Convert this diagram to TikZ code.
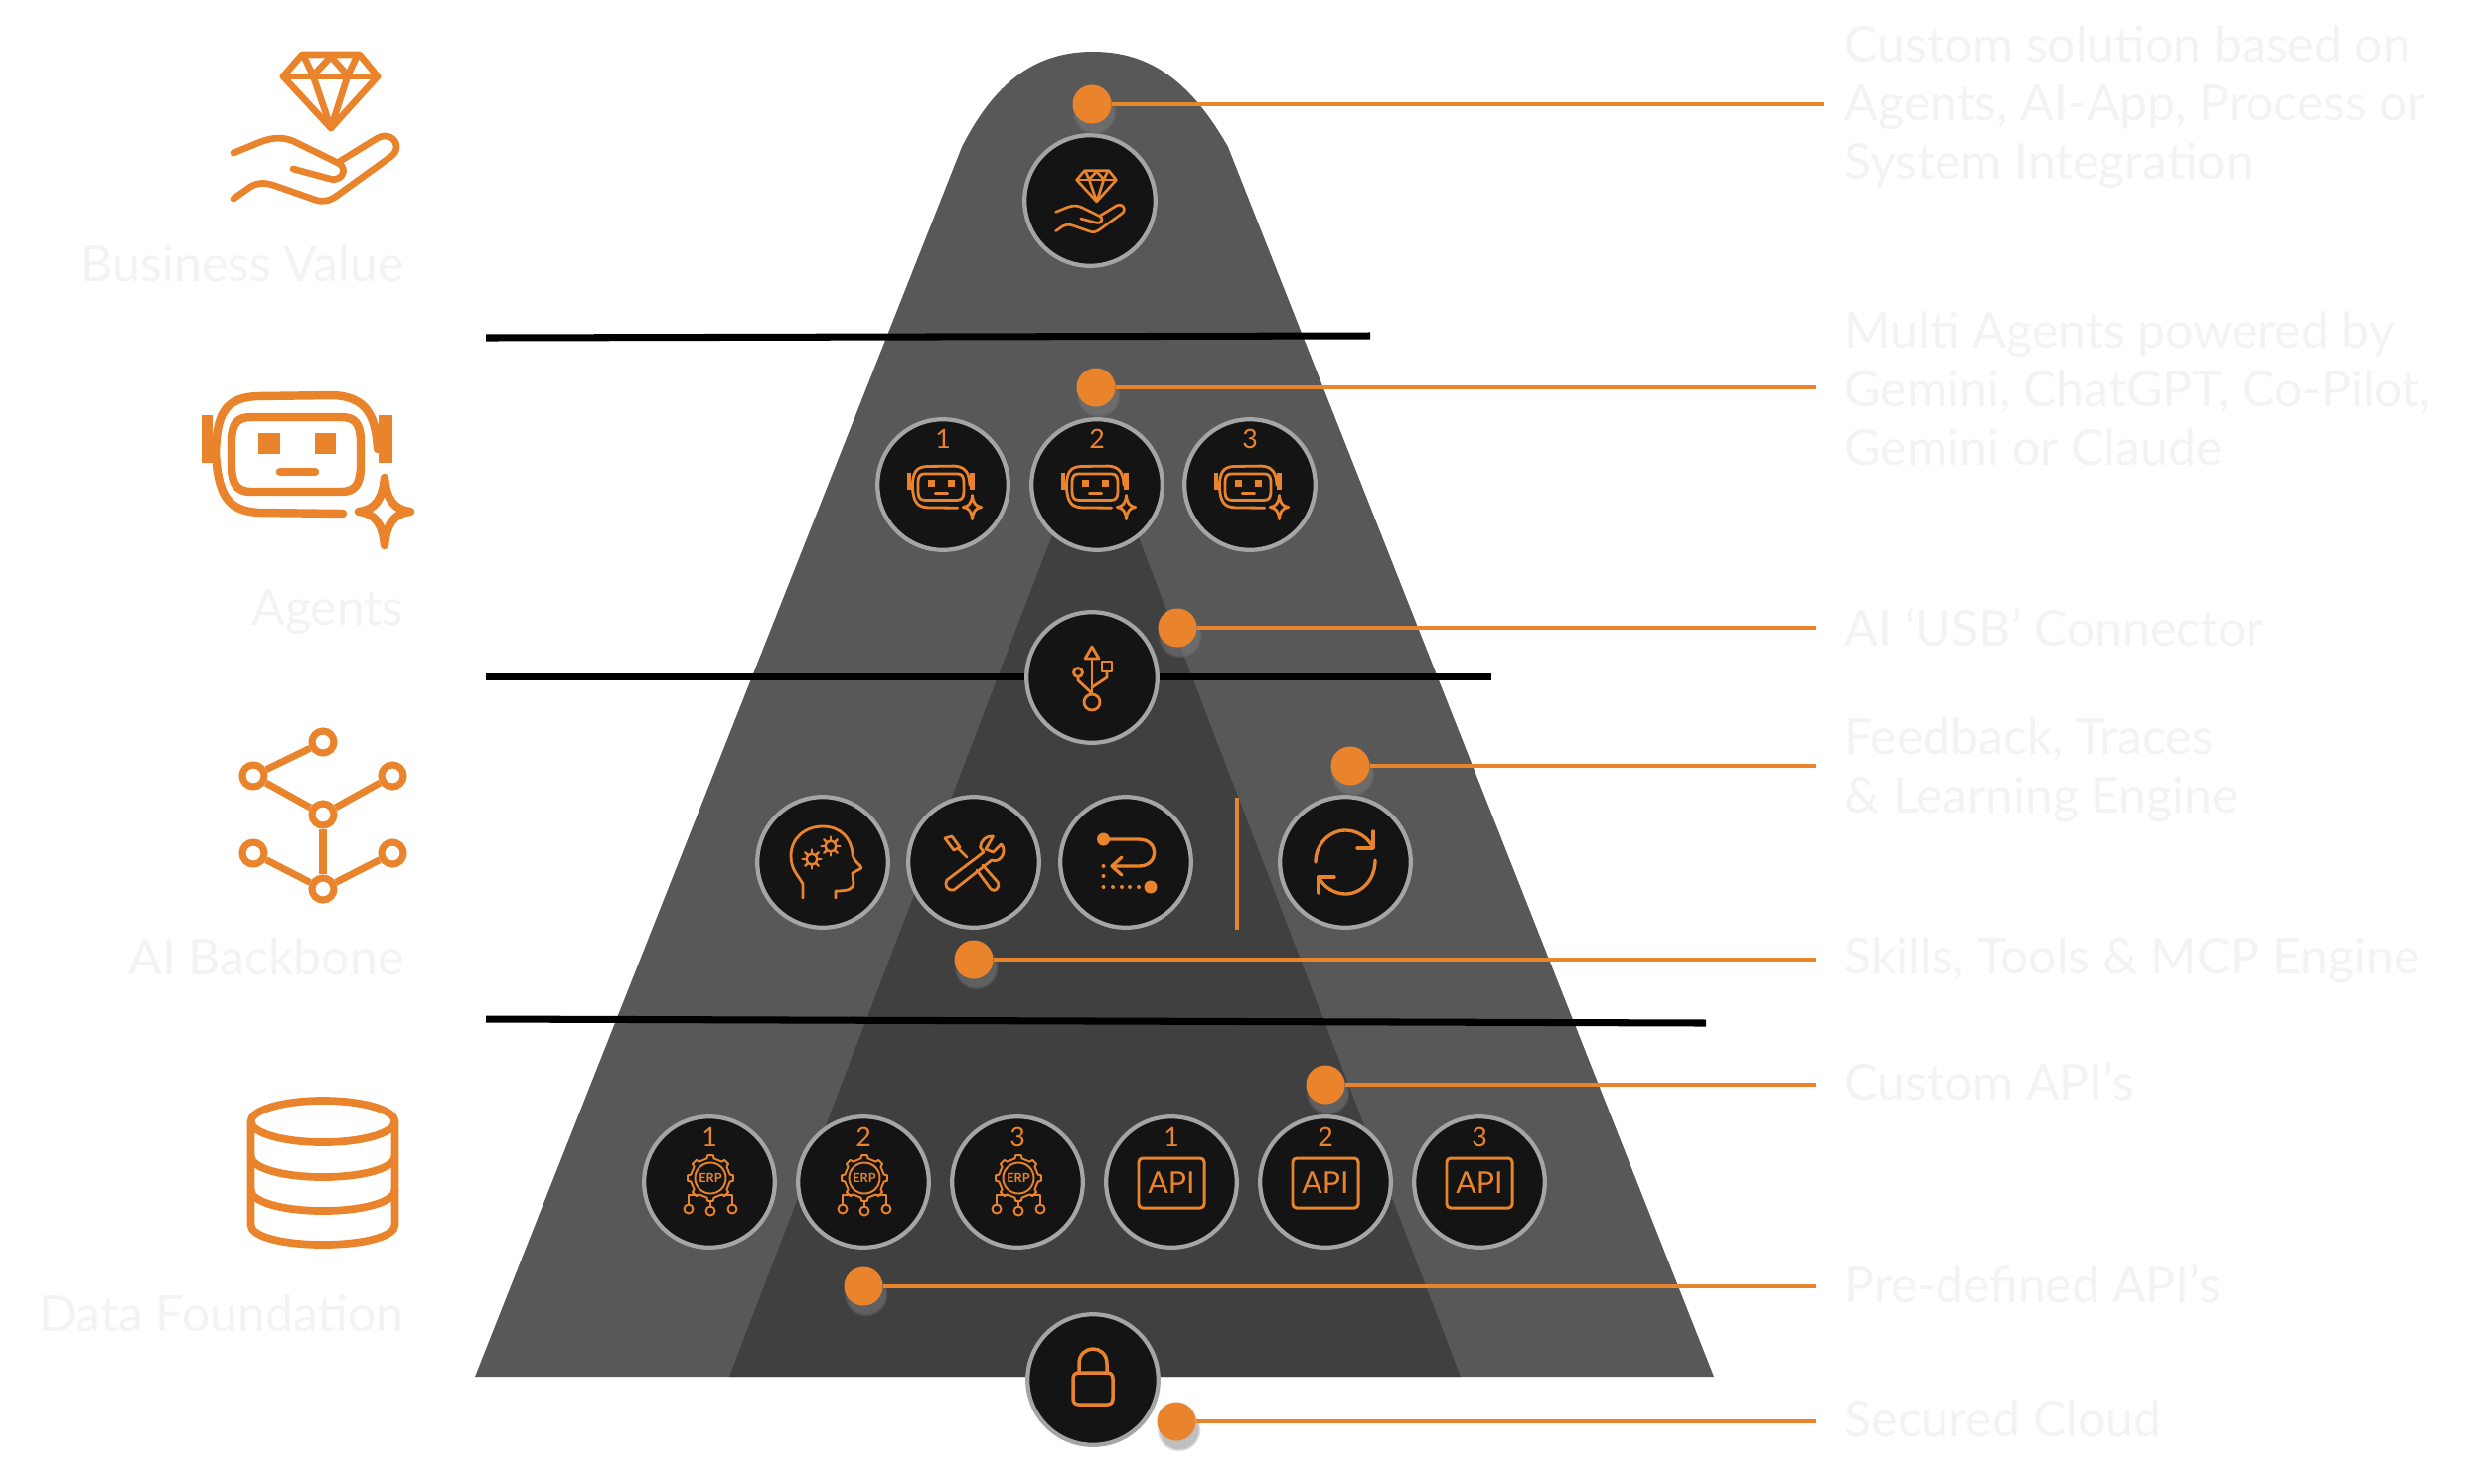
\documentclass[tikz,border=0pt]{standalone}
\usepackage{fontspec}
\setmainfont{Lato}
\usetikzlibrary{shadows}

\definecolor{brand}{HTML}{EA842C}
\definecolor{slab}{HTML}{585858}
\definecolor{slabdark}{HTML}{404040}
\definecolor{disc}{HTML}{141414}
\definecolor{ring}{HTML}{A5A5A5}
\definecolor{ghost}{HTML}{F3F3F3}

\tikzset{
  ic/.style={draw=brand, line cap=round, line join=round},
  tier/.style={circle, draw=ring, fill=disc, line width=1.2pt, minimum size=1.315cm, inner sep=0pt},
  dotmark/.style={circle, fill=brand, minimum size=0.39cm, inner sep=0pt,
    circular drop shadow={shadow xshift=0.02cm, shadow yshift=-0.07cm, shadow scale=1.15, opacity=.5}},
  lead/.style={draw=brand, line width=1.25pt},
  rule/.style={draw=black, line width=2pt},
  ghostlab/.style={text=ghost, inner sep=0pt, font=\fontsize{14.2pt}{16.72pt}\selectfont},
  numlab/.style={text=brand, inner sep=0pt, font=\fontsize{7.6pt}{8pt}\selectfont},
  netdot/.style={circle, draw=brand, fill=white, line width=2pt, minimum size=0.22cm, inner sep=0pt},
  gemhand/.pic={
    \draw[ic] (-13,-72) -- (45,-72) -- (63,-50) -- (16,2) -- (-32,-50) -- cycle;
    \draw[ic] (-32,-50) -- (63,-50);
    \draw[ic] (-11,-70) -- (-2,-51) -- (16,-70) -- (33,-51) -- (42,-70);
    \draw[ic] (-2,-51) -- (16,2) -- (33,-51);
    \draw[ic] (-82,27) -- (-55,16) .. controls (-42,11) and (-32,11) .. (-22,15) -- (23,37)
      .. controls (30,40) and (31,50) .. (22,53) .. controls (19,54) and (17,54) .. (15,53) -- (-22,43);
    \draw[ic] (24,36) -- (63,12) .. controls (72,7) and (82,12) .. (82,21)
      .. controls (82,25) and (80,28) .. (76,31) -- (22,70)
      .. controls (15,75) and (8,77) .. (0,74) -- (-40,60)
      .. controls (-52,56) and (-58,57) .. (-65,61) -- (-82,73);
  },
  robot/.pic={
    \draw[ic] (47,60) -- (-38,59) .. controls (-70,57) and (-78,40) .. (-81,0)
      .. controls (-80,-40) and (-72,-57) .. (-38,-58) -- (38,-59)
      .. controls (70,-57) and (80,-40) .. (82,-5);
    \fill[brand] (-95,-39) rectangle (-84,9);
    \fill[brand] (83,-39) rectangle (97,9);
    \draw[ic] (-45,-37) -- (45,-37) .. controls (60,-37) and (64,-30) .. (65,-15) -- (65,15)
      .. controls (64,30) and (60,38) .. (45,38) -- (-45,38)
      .. controls (-60,38) and (-64,30) .. (-65,15) -- (-65,-15)
      .. controls (-64,-30) and (-60,-37) .. (-45,-37) -- cycle;
    \fill[brand] (-38,-21) rectangle (-16,0);
    \fill[brand] (19,-21) rectangle (40,0);
    \draw[ic] (-16,18) -- (19,18);
    \draw[ic] (89,24) .. controls (91,45) and (98,56) .. (115,58)
      .. controls (98,60) and (91,71) .. (89,92)
      .. controls (87,71) and (80,60) .. (63,58)
      .. controls (80,56) and (87,45) .. (89,24) -- cycle;
  },
  usbmark/.pic={
    \draw[ic] (0,-19) -- (0,17);
    \draw[ic] (0,-31) -- (-7,-19) -- (7,-19) -- cycle;
    \draw[ic] (0,25) circle (8);
    \draw[ic] (-14,-5) circle (4.5);
    \draw[ic] (-14,-1) -- (-14,3) -- (0,16);
    \draw[ic] (10,-16) rectangle (20,-6);
    \draw[ic] (15,-6) -- (15,0) -- (0,10);
  },
  cog/.pic={
    \draw[ic] (0,0) circle (5.5);
    \foreach \aa in {0,45,...,315} { \draw[ic] (\aa:5.5) -- (\aa:9.5); }
  },
  brain/.pic={
    \draw[ic] (-20,36) -- (-20,22) .. controls (-24,14) and (-32,8) .. (-32,-6)
      .. controls (-32,-24) and (-18,-36) .. (0,-36)
      .. controls (18,-36) and (29,-24) .. (30,-8)
      .. controls (31,0) and (39,3) .. (39,6) -- (30,11) -- (31,22)
      .. controls (30,27) and (26,29) .. (13,29) -- (13,36);
    \pic[line width=.7pt] at (-11,-3) {cog};
    \pic[line width=.7pt] at (8,-16) {cog};
  },
  spanner/.pic={
    \draw[ic] (19.5,-26) .. controls (13,-27) and (7,-22) .. (6.5,-15) -- (10,-10) -- (-27,18)
      .. controls (-30,23) and (-27,29) .. (-20,28) -- (18,-2)
      .. controls (26,1) and (32,-8) .. (29.5,-15) -- (27.7,-18) -- (19.5,-10) -- (12,-13) -- cycle;
    \draw[ic] (-29,-24) -- (-22,-26) -- (-14,-15) -- (-20,-12) -- cycle;
    \draw[ic] (-15,-13) -- (-7,-5);
    \draw[ic] (3,8) -- (17,27) .. controls (21,31) and (27,26) .. (24,20) -- (9,3);
  },
  goback/.pic={
    \draw[ic] (-22.5,-23) -- (13,-23) .. controls (34,-23) and (34,4) .. (13,4) -- (-13,4);
    \draw[ic] (-4,-5) -- (-14,4) -- (-4,13);
    \fill[brand] (-22.5,-23) circle (6.5);
    \fill[brand] (25,25) circle (6.5);
    \foreach \xx/\yy in {-22.5/4,-22.5/14,-22.5/25,-13/25,-4/25,4/25,13/25} {
      \fill[brand] (\xx,\yy) circle (2);
    }
  },
  sync/.pic={
    \draw[ic] (-30,0) .. controls (-30,-18) and (-16,-32) .. (0,-32)
      .. controls (12,-32) and (23,-25) .. (28,-14);
    \draw[ic] (28,-31) -- (28,-14) -- (12,-14);
    \draw[ic] (30,-2) .. controls (30,18) and (16,32) .. (0,32)
      .. controls (-11,32) and (-22,25) .. (-27,15);
    \draw[ic] (-27,31) -- (-27,15) -- (-11,15);
  },
  erpgear/.pic={
    \draw[ic] (-10:20) foreach \aa in {0,45,...,315} {
      -- (\aa-10:20) -- (\aa-7:23) -- (\aa+7:23) -- (\aa+10:20) } -- cycle;
    \draw[ic] (0,0) circle (15.5);
    \node[text=brand, inner sep=0pt, font=\bfseries\fontsize{3.6pt}{4pt}\selectfont] (-lab) at (0,0) {ERP};
    \draw[ic] (0,23) -- (0,28);
    \draw[ic] (-22,26.5) -- (-22,17) -- (-11,17);
    \draw[ic] (22,26.5) -- (22,17) -- (11,17);
    \draw[ic] (-22,31) circle (4.5);
    \draw[ic] (0,33) circle (4.5);
    \draw[ic] (22,31) circle (4.5);
  },
  padlock/.pic={
    \draw[ic] (-14,-7) -- (-14,-16) .. controls (-14,-36) and (14,-36) .. (14,-16) -- (14,-7);
    \draw[ic] (-14,-7) -- (14,-7) .. controls (18,-7) and (20,-5) .. (20,-1) -- (20,19)
      .. controls (20,23) and (18,25) .. (14,25) -- (-14,25)
      .. controls (-18,25) and (-20,23) .. (-20,19) -- (-20,-1)
      .. controls (-20,-5) and (-18,-7) .. (-14,-7) -- cycle;
  },
}

\begin{document}
\begin{tikzpicture}[x=0.01cm, y=-0.01cm]

  \useasboundingbox (0,0) rectangle (2500,1493);

  % ---- pyramid ----
  \fill[slab] (478,1386) -- (968,148) .. controls (1000,85) and (1040,52) .. (1100,52)
    .. controls (1160,52) and (1200,85) .. (1236,148) -- (1725,1386) -- cycle;
  \fill[slabdark] (734,1386) -- (1070,510) -- (1134,510) -- (1470,1386) -- cycle;

  % ---- tier rules (behind the discs) ----
  \coordinate (ruleAa) at (489,340);
  \coordinate (ruleAb) at (1379,338);
  \coordinate (ruleBa) at (489,681);
  \coordinate (ruleBb) at (1501,681);
  \coordinate (ruleCa) at (489,1026);
  \coordinate (ruleCb) at (1717,1030);
  \draw[rule] (ruleAa) -- (ruleAb);
  \draw[rule] (ruleBa) -- (ruleBb);
  \draw[rule] (ruleCa) -- (ruleCb);

  % ---- side icons ----
  \pic[line width=1.9pt] at (317,127) {gemhand};
  \pic[line width=2.4pt] at (298,457) {robot};

  \node[netdot] (netA) at (325,747) {};
  \node[netdot] (netB) at (255,781) {};
  \node[netdot] (netC) at (395,781) {};
  \node[netdot] (netD) at (325,820) {};
  \node[netdot] (netE) at (255,859) {};
  \node[netdot] (netF) at (395,859) {};
  \node[netdot] (netG) at (325,895) {};
  \foreach \pa/\pb in {netA/netB, netB/netD, netC/netD, netD/netG, netE/netG, netF/netG} {
    \draw[draw=brand, line width=2pt] (\pa) -- (\pb);
  }

  \draw[ic, line width=2.2pt] (325,1129) ellipse [x radius=72.5, y radius=21];
  \draw[ic, line width=2.2pt] (252.5,1129) -- (252.5,1233)
    .. controls (252.5,1245) and (285,1253) .. (325,1253)
    .. controls (365,1253) and (397.5,1245) .. (397.5,1233) -- (397.5,1129);
  \foreach \yy in {1164,1198} {
    \draw[ic, line width=2.2pt] (252.5,\yy)
      .. controls (252.5,\yy+12) and (285,\yy+21) .. (325,\yy+21)
      .. controls (365,\yy+21) and (397.5,\yy+12) .. (397.5,\yy);
  }

  % ---- side titles ----
  \node[ghostlab, anchor=base east] (valuelab) at (407,283) {Business Value};
  \node[ghostlab, anchor=base east] (agentlab) at (407,629) {Agents};
  \node[ghostlab, anchor=base east] (backlab) at (407,981) {AI Backbone};
  \node[ghostlab, anchor=base east] (datalab) at (407,1340) {Data Foundation};

  % ---- discs and their icons ----
  \node[tier] (top) at (1097,202) {};
  \pic[scale=.42, line width=.75pt] at (top) {gemhand};

  \foreach \nn/\xx in {1/949, 2/1104, 3/1258} {
    \node[tier] (agent\nn) at (\xx,488) {};
    \node[numlab] (agentnum\nn) at (\xx,442) {\nn};
    \pic[scale=.354, line width=.8pt] at (\xx-2,490) {robot};
  }

  \node[tier] (usb) at (1099,682) {};
  \pic[line width=.8pt] at (usb) {usbmark};

  \node[tier] (skill) at (828,868) {};
  \pic[line width=.8pt] at (skill) {brain};
  \node[tier] (tool) at (980,868) {};
  \pic[line width=.8pt] at (tool) {spanner};
  \node[tier] (flow) at (1133,868) {};
  \pic[line width=.95pt] at (flow) {goback};
  \node[tier] (learn) at (1354,868) {};
  \pic[line width=.95pt] at (learn) {sync};

  \coordinate (sepa) at (1245,803);
  \coordinate (sepb) at (1245,936);
  \draw[lead] (sepa) -- (sepb);

  \foreach \nn/\xx in {1/714, 2/869, 3/1024} {
    \node[tier] (erp\nn) at (\xx,1190) {};
    \node[numlab] (erpnum\nn) at (\xx,1145) {\nn};
    \pic[line width=.55pt] at (\xx+1,1186) {erpgear};
  }
  \foreach \nn/\xx in {1/1179, 2/1334, 3/1489} {
    \node[tier] (api\nn) at (\xx,1190) {};
    \node[numlab] (apinum\nn) at (\xx,1145) {\nn};
    \node[draw=brand, line width=.85pt, rounded corners=0.04cm, minimum width=0.66cm, minimum height=0.5cm,
      inner sep=0pt, text=brand, font=\fontsize{8.6pt}{9pt}\selectfont] (apibox\nn) at (\xx,1191) {API};
  }

  \node[tier] (lock) at (1100,1389) {};
  \pic[line width=1pt] at (lock) {padlock};

  % ---- callouts: {name / dot x / dot y / line end x} ----
  \foreach \nm/\xx/\yy/\xe in {
      sol/1099/105/1836, multi/1103/390/1828, conn/1185/632/1828, feed/1359/771/1828,
      skills/980/966/1828, custom/1334/1092/1828, pre/869/1295/1828, cloud/1184/1431/1828} {
    \node[dotmark] (dot\nm) at (\xx,\yy) {};
    \coordinate (end\nm) at (\xe,\yy);
    \draw[lead] (dot\nm) -- (end\nm);
  }

  \node[ghostlab, anchor=base west, align=left] (labsol) at (1856,180)
    {Custom solution based on\\Agents, AI-App, Process or\\System Integration};
  \node[ghostlab, anchor=base west, align=left] (labmulti) at (1856,468)
    {Multi Agents powered by\\Gemini, ChatGPT, Co-Pilot,\\Gemini or Claude};
  \node[ghostlab, anchor=base west] (labconn) at (1856,650) {AI ‘USB’ Connector};
  \node[ghostlab, anchor=base west, align=left] (labfeed) at (1856,818)
    {Feedback, Traces\\\& Learning Engine};
  \node[ghostlab, anchor=base west] (labskills) at (1856,980) {Skills, Tools \& MCP Engine};
  \node[ghostlab, anchor=base west] (labcustom) at (1856,1107) {Custom API’s};
  \node[ghostlab, anchor=base west] (labpre) at (1856,1311) {Pre-defined API’s};
  \node[ghostlab, anchor=base west] (labcloud) at (1856,1446) {Secured Cloud};

\end{tikzpicture}
\end{document}
